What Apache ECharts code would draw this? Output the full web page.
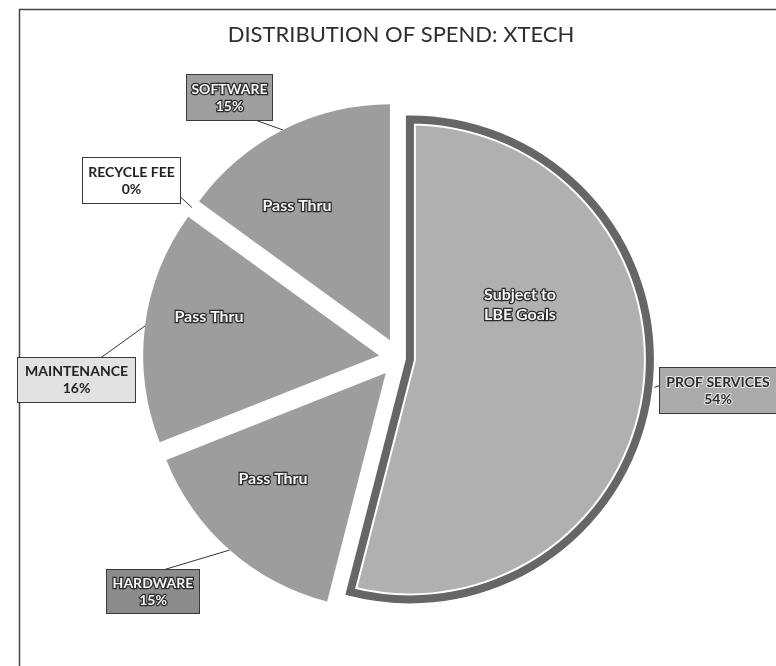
<!DOCTYPE html>
<html>
<head>
<meta charset="utf-8">
<script src="https://cdn.jsdelivr.net/npm/echarts@6/dist/echarts.min.js"></script>
<style>
html,body{margin:0;padding:0;background:#fff;}
#chart{width:776px;height:666px;}
</style>
</head>
<body>
<div id="chart"></div>
<script>
// ---- data ----
const categories = ['PROF SERVICES', 'HARDWARE', 'MAINTENANCE', 'RECYCLE FEE', 'SOFTWARE'];
const shares = [54, 15, 16, 0, 15];
const innerLabels = ['Subject to\nLBE Goals', 'Pass Thru', 'Pass Thru', '', 'Pass Thru'];
const titleText = 'DISTRIBUTION OF SPEND: XTECH';

// ---- styling / layout (not data) ----
const FONT = 'Lato, "Open Sans", sans-serif';
const CENTER = [399, 358];
const explode = [11, 20, 20, 20, 20];      // px each slice is pulled out
const radii = [240, 236, 236, 236, 236];
// callout boxes: centre, width, vertical padding, colours, attach point (relative to box centre)
const calloutStyle = [
  { x: 718, y: 390.5, w: 116, pv: 5.5, bg: '#ababab', color: '#2a2a2a', tb: '#e8e8e8', tbw: 2, ax: -58, ay: -5 },
  { x: 153, y: 591.5, w: 92, pv: 4.5, bg: '#8c8c8c', color: '#f6f6f6', tb: '#2a2a2a', tbw: 2.5, ax: 10, ay: -21.5 },
  { x: 76.5, y: 380, w: 117, pv: 5, bg: '#e2e2e2', color: '#222', tb: '#fff', tbw: 0, ax: 24, ay: -22 },
  { x: 131.5, y: 180.5, w: 97, pv: 5.5, bg: '#ffffff', color: '#222', tb: '#fff', tbw: 0, ax: 48.5, ay: 16 },
  { x: 229.5, y: 97.5, w: 85, pv: 5.5, bg: '#9e9e9e', color: '#f6f6f6', tb: '#2a2a2a', tbw: 2.5, ax: 25.5, ay: 22.5 }
];
const innerPos = [[520, 305], [273, 479], [209, 317], null, [297, 206]];
const PASS_FILL = '#9d9d9d';
const PS_FILL = '#b0b0b0';
const PS_BORDER = '#666666';
const NONE = 'rgba(0,0,0,0)';

// exploded centre of each slice, from its bisector angle (clockwise from 12 o'clock)
const total = shares.reduce((a, b) => a + b, 0);
let cum = 0;
const sliceCenters = shares.map((v, i) => {
  const mid = (90 - 360 * (cum + v / 2) / total) * Math.PI / 180;
  cum += v;
  return [CENTER[0] + explode[i] * Math.cos(mid), CENTER[1] - explode[i] * Math.sin(mid)];
});

function calloutLabel(i) {
  const s = calloutStyle[i];
  return {
    show: true,
    position: 'outside',
    formatter: p => p.name + '\n' + p.value + '%',
    fontFamily: FONT, fontWeight: 'bold', fontSize: 14, lineHeight: 17,
    width: s.w, padding: [s.pv, 0], align: 'center',
    backgroundColor: s.bg, borderColor: '#3a3a3a', borderWidth: 1,
    color: s.color, textBorderColor: s.tb, textBorderWidth: s.tbw
  };
}
const calloutLine = { show: true, length: 10, length2: 10, lineStyle: { color: '#333', width: 1 }, smooth: false };

function calloutLayout(p) {
  const s = calloutStyle[p.dataIndex];
  const pts = p.labelLinePoints;
  const res = { x: s.x, y: s.y, align: 'center', verticalAlign: 'middle' };
  if (pts && pts.length) res.labelLinePoints = [pts[0], [s.x + s.ax, s.y + s.ay]];
  return res;
}

const common = {
  type: 'pie', startAngle: 90, clockwise: true, avoidLabelOverlap: false,
  emphasis: { disabled: true }, animation: false, tooltip: { show: false }
};

const series = [];
// one series per slice, each shifted along its bisector
categories.forEach((_, k) => {
  series.push(Object.assign({}, common, {
    name: 'slice' + k, center: sliceCenters[k], radius: radii[k],
    data: categories.map((name, i) => ({
      name, value: shares[i],
      itemStyle: i !== k ? { color: NONE, borderWidth: 0 }
        : (k === 0 ? { color: PS_FILL, borderColor: '#ffffff', borderWidth: 12, borderJoin: 'miter' }
                   : { color: PASS_FILL, borderWidth: 0 }),
      label: i === k && k !== 0 ? calloutLabel(i) : { show: false },
      labelLine: i === k && k !== 0 ? calloutLine : { show: false }
    })),
    labelLayout: calloutLayout
  }));
});
// dark outline of PROF SERVICES + its callout
series.push(Object.assign({}, common, {
  name: 'psBorder', center: sliceCenters[0], radius: radii[0],
  data: categories.map((name, i) => ({
    name, value: shares[i],
    itemStyle: i === 0 ? { color: NONE, borderColor: PS_BORDER, borderWidth: 8, borderJoin: 'miter' }
                       : { color: NONE, borderWidth: 0 },
    label: i === 0 ? calloutLabel(0) : { show: false },
    labelLine: i === 0 ? calloutLine : { show: false }
  })),
  labelLayout: calloutLayout
}));
// text inside the slices
series.push(Object.assign({}, common, {
  name: 'inner', center: CENTER, radius: 236,
  data: categories.map((name, i) => ({
    name, value: shares[i],
    itemStyle: { color: NONE, borderWidth: 0 },
    label: innerLabels[i] ? {
      show: true, position: 'inside', formatter: innerLabels[i],
      fontFamily: FONT, fontWeight: 'bold', fontSize: 16, lineHeight: 20,
      color: '#f4f4f4', textBorderColor: '#2a2a2a', textBorderWidth: 2.5, align: 'center'
    } : { show: false },
    labelLine: { show: false }
  })),
  labelLayout: p => {
    const q = innerPos[p.dataIndex];
    return q ? { x: q[0], y: q[1], align: 'center', verticalAlign: 'middle' } : {};
  }
}));

const chart = echarts.init(document.getElementById('chart'), null, { renderer: 'canvas' });
chart.setOption({
  backgroundColor: '#ffffff',
  animation: false,
  title: {
    text: titleText, left: 396, top: 19, textAlign: 'center',
    textStyle: { fontFamily: FONT, fontSize: 22, fontWeight: 'normal', color: '#2e2e2e' }
  },
  graphic: [{
    type: 'rect', left: 17, top: 7, z: -10,
    shape: { width: 800, height: 700 },
    style: { fill: 'none', stroke: '#444', lineWidth: 1.5 }
  }],
  series
});
</script>
</body>
</html>
